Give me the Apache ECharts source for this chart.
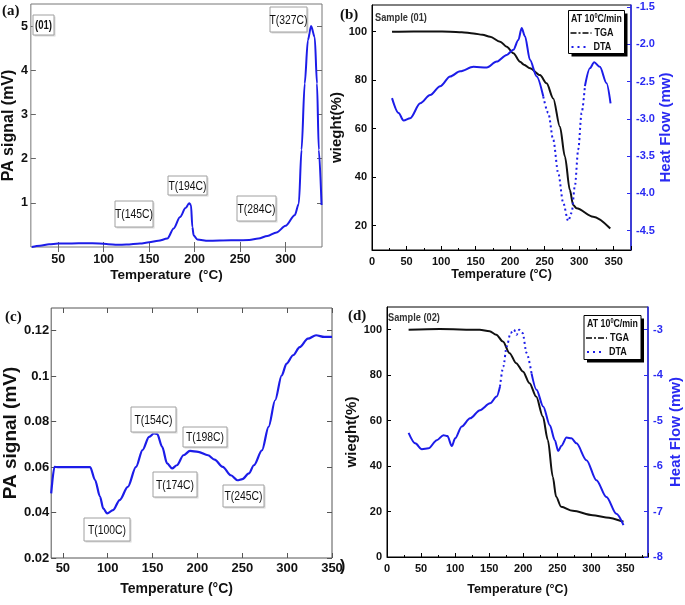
<!DOCTYPE html>
<html><head><meta charset="utf-8">
<script src="https://cdn.jsdelivr.net/npm/echarts@6/dist/echarts.min.js"></script>
<style>html,body{margin:0;padding:0;background:#fff}#c{width:685px;height:605px}</style>
</head><body><div id="c"></div>
<script>
// ---------- Panel (a): PA signal, sample 01 ----------
const aT = [21, 30, 40, 50, 65, 80, 95, 105, 115, 125, 140, 150, 160, 170, 177, 184, 190, 194, 196, 197.5, 199, 203, 215, 240, 260, 270, 280, 290, 300, 310, 314.5, 317.5, 321, 324.5, 328, 332, 334.5, 336.5, 339.5];
const aV = [0.0, 0.03, 0.06, 0.08, 0.08, 0.085, 0.08, 0.065, 0.05, 0.055, 0.08, 0.105, 0.14, 0.19, 0.42, 0.68, 0.88, 0.99, 0.95, 0.45, 0.26, 0.17, 0.14, 0.15, 0.16, 0.19, 0.25, 0.33, 0.48, 0.72, 0.98, 2.2, 3.7, 4.68, 5.0, 4.75, 3.7, 2.2, 0.95];
const aXTicks = [50, 100, 150, 200, 250, 300];
const aYTicks = [1, 2, 3, 4, 5];
const aNotes = ['(01)', 'T(145C)', 'T(194C)', 'T(284C)', 'T(327C)'];

// ---------- Panel (b): TGA / DTA, sample 01 ----------
const tgaBT = [29, 60, 90, 113, 130, 147, 160, 171, 185.5, 195.1, 204.7, 214.4, 220, 228.8, 243.2, 252.8, 262.4, 272.1, 279.3, 286.5, 291.3, 296.1, 320.2, 345];
const tgaBW = [100, 100.1, 100.1, 100, 99.8, 99.3, 98.7, 97.9, 95.9, 93.8, 91.1, 87.6, 86.4, 84.9, 82.1, 78.7, 72.5, 60.8, 48.5, 34.7, 28.5, 27.2, 23.7, 18.9];
const dtaB1T = [29, 38.5, 45.7, 55.3, 69.8, 84.2, 98.7, 113.2, 127.6, 146.9, 166.2, 180.6, 195.1, 204.7, 211.9, 216.7, 221.5, 228.8, 238.4, 248];
const dtaB1V = [-2.72, -2.92, -3.02, -2.99, -2.79, -2.68, -2.56, -2.43, -2.36, -2.30, -2.31, -2.23, -2.14, -2.07, -1.94, -1.78, -1.89, -2.21, -2.43, -2.70];
const dtaB2T = [248, 255.2, 262.4, 269.7, 276.9, 284.1, 289, 293.8, 298.6, 303.5, 308.3];
const dtaB2V = [-2.70, -2.92, -3.28, -3.73, -4.13, -4.37, -4.26, -3.90, -3.41, -2.92, -2.56];
const dtaB3T = [308.3, 315.5, 321.7, 329.9, 339.6, 345.4];
const dtaB3V = [-2.56, -2.32, -2.24, -2.30, -2.52, -2.79];
const bXLabels = [0, 50, 100, 150, 200, 250, 300, 350];
const bYLabels = [20, 40, 60, 80, 100];
const bY2Labels = [-4.5, -4.0, -3.5, -3.0, -2.5, -2.0, -1.5];

// ---------- Panel (c): PA signal, sample 02 ----------
const cT = [37, 40.6, 44.3, 60, 80.4, 85.9, 91.4, 95, 99.4, 106, 113.3, 122.4, 131.5, 138.8, 146.1, 151.6, 155.2, 160.7, 166.2, 171.7, 177.1, 184.4, 191.7, 200.8, 211.8, 219.1, 228.2, 237.3, 244.6, 250.1, 257.4, 262.9, 272, 279.3, 286.6, 293.9, 299.3, 306.6, 314, 323.1, 332.2, 341.3, 350];
const cV = [0.0484, 0.0601, 0.06, 0.06, 0.06, 0.0543, 0.047, 0.0418, 0.0396, 0.0411, 0.0455, 0.0513, 0.0601, 0.0675, 0.0733, 0.0748, 0.0745, 0.0689, 0.0616, 0.0594, 0.0608, 0.0652, 0.0671, 0.0667, 0.0652, 0.0633, 0.0601, 0.0564, 0.0542, 0.0547, 0.0572, 0.0608, 0.0674, 0.0777, 0.0894, 0.1003, 0.1055, 0.1092, 0.1128, 0.1165, 0.118, 0.1173, 0.1173];
const cXTicks = [50, 100, 150, 200, 250, 300, 350];
const cYTicks = [0.02, 0.04, 0.06, 0.08, 0.1, 0.12];
const cNotes = ['T(154C)', 'T(198C)', 'T(174C)', 'T(245C)', 'T(100C)'];

// ---------- Panel (d): TGA / DTA, sample 02 ----------
const tgaDT = [31.7, 77.4, 136, 150.6, 160.4, 170.1, 179.9, 189.6, 199.4, 209.2, 218.9, 228.7, 236, 243.3, 248.2, 255.5, 272.6, 301.9, 321.4, 347];
const tgaDW = [100, 100.3, 100, 99.3, 97.8, 94.8, 89.7, 85.3, 81.6, 76.5, 70.6, 61.8, 51.5, 35.3, 26.5, 22.1, 20.3, 18.4, 17.4, 15.5];
const dtaD1T = [31.7, 41.4, 51.2, 60.9, 73.1, 82.9, 88.7, 95.1, 100, 109.7, 121.9, 136.5, 151.2, 160.9, 165.8];
const dtaD1V = [-5.27, -5.50, -5.63, -5.61, -5.43, -5.32, -5.34, -5.56, -5.39, -5.13, -4.95, -4.77, -4.62, -4.47, -4.25];
const dtaD2T = [165.8, 170.7, 175.6, 181.4, 186.3, 190.2, 194.1, 199, 204.8, 212.1];
const dtaD2V = [-4.25, -3.81, -3.37, -3.07, -3.0, -3.11, -3.0, -3.07, -3.51, -3.96];
const dtaD3T = [212.1, 219.4, 229.2, 238.9, 246.3, 251.2, 256, 263.4, 270.7, 278, 292.7, 307.3, 322, 336.6, 347];
const dtaD3V = [-3.96, -4.32, -4.69, -5.10, -5.43, -5.67, -5.55, -5.37, -5.39, -5.50, -5.87, -6.31, -6.68, -7.05, -7.3];
const dXLabels = [0, 50, 100, 150, 200, 250, 300, 350];
const dYLabels = [0, 20, 40, 60, 80, 100];
const dY2Labels = [-8, -7, -6, -5, -4, -3];

// ---------- rendering ----------
const SANS = '"Liberation Sans", Arial, sans-serif';
const SERIF = '"Liberation Serif", "Times New Roman", serif';
const BLUE = '#1c1ce8';
const AXBLUE = '#2a2af2';
const zip = (xs, ys) => xs.map((x, i) => [x, ys[i]]);

function tickLbl(size, color, margin, custom, fmt) {
  const o = { fontFamily: SANS, fontWeight: 'bold', fontSize: size, color: color, margin: margin };
  if (custom) o.customValues = custom;
  if (fmt) o.formatter = fmt;
  return o;
}
function nameStyle(size, color, extra) {
  return Object.assign({ fontFamily: SANS, fontWeight: 'bold', fontSize: size, color: color }, extra || {});
}
const noSplit = { show: false };

const xAxis = [
  // 0: a bottom
  { gridIndex: 0, type: 'value', min: 20, max: 340, axisLine: { show: false }, splitLine: noSplit,
    axisTick: { inside: true, length: 5, lineStyle: { color: '#666' }, customValues: aXTicks },
    axisLabel: tickLbl(12.5, '#111', 6, aXTicks),
    name: 'Temperature  (°C)', nameLocation: 'middle', nameGap: 21,
    nameTextStyle: nameStyle(13.5, '#111', { padding: [0, 20, 0, 0], verticalAlign: 'top' }) },
  // 1: a top mirror
  { gridIndex: 0, type: 'value', position: 'top', min: 20, max: 340, axisLine: { show: false }, splitLine: noSplit,
    axisTick: { inside: true, length: 5, lineStyle: { color: '#666' }, customValues: aXTicks }, axisLabel: { show: false } },
  // 2: b bottom
  { gridIndex: 1, type: 'value', min: 0, max: 375, interval: 50, splitLine: noSplit,
    axisLine: { lineStyle: { color: '#000', width: 1 } },
    axisTick: { inside: true, length: 4, lineStyle: { color: '#000' } },
    minorTick: { show: true, splitNumber: 2, length: 2, lineStyle: { color: '#000' } },
    axisLabel: tickLbl(11, '#111', 6, bXLabels),
    name: 'Temperature (°C)', nameLocation: 'middle', nameGap: 15,
    nameTextStyle: nameStyle(12.5, '#111', { verticalAlign: 'top' }) },
  // 3: c bottom
  { gridIndex: 2, type: 'value', min: 37, max: 350, axisLine: { show: false }, splitLine: noSplit,
    axisTick: { inside: true, length: 5, lineStyle: { color: '#555' }, customValues: cXTicks },
    axisLabel: tickLbl(13, '#111', 4, cXTicks),
    name: 'Temperature (°C)', nameLocation: 'middle', nameGap: 24,
    nameTextStyle: nameStyle(14, '#111', { padding: [0, 30, 0, 0], verticalAlign: 'top' }) },
  // 4: c top mirror
  { gridIndex: 2, type: 'value', position: 'top', min: 37, max: 350, axisLine: { show: false }, splitLine: noSplit,
    axisTick: { inside: true, length: 5, lineStyle: { color: '#555' }, customValues: cXTicks }, axisLabel: { show: false } },
  // 5: d bottom
  { gridIndex: 3, type: 'value', min: 0, max: 383, interval: 50, splitLine: noSplit,
    axisLine: { lineStyle: { color: '#000', width: 1 } },
    axisTick: { inside: true, length: 4, lineStyle: { color: '#000' } },
    minorTick: { show: true, splitNumber: 2, length: 2, lineStyle: { color: '#000' } },
    axisLabel: tickLbl(11, '#111', 6, dXLabels),
    name: 'Temperature (°C)', nameLocation: 'middle', nameGap: 26,
    nameTextStyle: nameStyle(12.5, '#111', { verticalAlign: 'top' }) }
];

const yAxis = [
  // 0: a left
  { gridIndex: 0, type: 'value', min: 0, max: 5.5, axisLine: { show: false }, splitLine: noSplit,
    axisTick: { inside: true, length: 5, lineStyle: { color: '#666' }, customValues: aYTicks },
    axisLabel: tickLbl(12.5, '#111', 3, aYTicks),
    name: 'PA signal (mV)', nameLocation: 'middle', nameGap: 6,
    nameTextStyle: nameStyle(16, '#111') },
  // 1: a right mirror
  { gridIndex: 0, type: 'value', position: 'right', min: 0, max: 5.5, axisLine: { show: false }, splitLine: noSplit,
    axisTick: { inside: true, length: 5, lineStyle: { color: '#666' }, customValues: aYTicks }, axisLabel: { show: false } },
  // 2: b left
  { gridIndex: 1, type: 'value', min: 10, max: 111, splitLine: noSplit,
    axisLine: { show: true, lineStyle: { color: '#000' } },
    axisTick: { show: true, inside: true, length: 4, lineStyle: { color: '#000' }, customValues: bYLabels },
    axisLabel: tickLbl(11, '#111', 5, bYLabels),
    name: 'wieght(%)', nameLocation: 'middle', nameGap: 18,
    nameTextStyle: nameStyle(15, '#111') },
  // 3: b right (heat flow)
  { gridIndex: 1, type: 'value', position: 'right', min: -4.76, max: -1.47, splitLine: noSplit,
    axisLine: { show: true, lineStyle: { color: AXBLUE, width: 1.5 } },
    axisTick: { show: true, inside: true, length: 4, lineStyle: { color: AXBLUE }, customValues: bY2Labels },
    axisLabel: tickLbl(11, AXBLUE, 5, bY2Labels, v => v.toFixed(1)),
    name: 'Heat Flow (mw)', nameLocation: 'middle', nameGap: 24,
    nameTextStyle: nameStyle(15, AXBLUE) },
  // 4: c left
  { gridIndex: 2, type: 'value', min: 0.02, max: 0.13, axisLine: { show: false }, splitLine: noSplit,
    axisTick: { inside: true, length: 5, lineStyle: { color: '#555' }, customValues: cYTicks },
    axisLabel: tickLbl(13, '#111', 2, cYTicks),
    name: 'PA signal (mV)', nameLocation: 'middle', nameGap: 27,
    nameTextStyle: nameStyle(19, '#111') },
  // 5: c right mirror
  { gridIndex: 2, type: 'value', position: 'right', min: 0.02, max: 0.13, axisLine: { show: false }, splitLine: noSplit,
    axisTick: { inside: true, length: 5, lineStyle: { color: '#555' }, customValues: cYTicks }, axisLabel: { show: false } },
  // 6: d left
  { gridIndex: 3, type: 'value', min: 0, max: 110, splitLine: noSplit,
    axisLine: { show: true, lineStyle: { color: '#000' } },
    axisTick: { show: true, inside: true, length: 4, lineStyle: { color: '#000' }, customValues: dYLabels },
    axisLabel: tickLbl(11, '#111', 5, dYLabels),
    name: 'wieght(%)', nameLocation: 'middle', nameGap: 23,
    nameTextStyle: nameStyle(15, '#111') },
  // 7: d right
  { gridIndex: 3, type: 'value', position: 'right', min: -8, max: -2.5, splitLine: noSplit,
    axisLine: { show: true, lineStyle: { color: AXBLUE, width: 1.5 } },
    axisTick: { show: true, inside: true, length: 4, lineStyle: { color: AXBLUE }, customValues: dY2Labels },
    axisLabel: tickLbl(11, AXBLUE, 5, dY2Labels),
    name: 'Heat Flow (mw)', nameLocation: 'middle', nameGap: 20,
    nameTextStyle: nameStyle(15, AXBLUE) }
];

function line(name, data, xi, yi, color, width, type) {
  return { name: name, type: 'line', data: data, xAxisIndex: xi, yAxisIndex: yi, symbol: 'none',
    smooth: 0.3, smoothMonotone: 'x', lineStyle: { color: color, width: width, type: type || 'solid' }, z: 3 };
}

const series = [
  line('PA (01)', zip(aT, aV), 0, 0, BLUE, 2),
  line('TGA', zip(tgaBT, tgaBW), 2, 2, '#111', 2),
  line('DTA', zip(dtaB1T, dtaB1V), 2, 3, BLUE, 2),
  line('DTA', zip(dtaB2T, dtaB2V), 2, 3, BLUE, 2, [2, 3]),
  line('DTA', zip(dtaB3T, dtaB3V), 2, 3, BLUE, 2),
  line('PA (02)', zip(cT, cV), 3, 4, BLUE, 2.2),
  line('TGA', zip(tgaDT, tgaDW), 5, 6, '#111', 2),
  line('DTA', zip(dtaD1T, dtaD1V), 5, 7, BLUE, 2),
  line('DTA', zip(dtaD2T, dtaD2V), 5, 7, BLUE, 2, [2, 3]),
  line('DTA', zip(dtaD3T, dtaD3V), 5, 7, BLUE, 2)
];

// ---------- decorations (annotation boxes, legends, panel letters) ----------
const G = [];
function txt(x, y, text, font, color, align, sx, rich) {
  const s = { text: text, font: font, fill: color || '#111', align: align || 'left', textAlign: align || 'left',
    verticalAlign: 'middle', textVerticalAlign: 'middle' };
  if (rich) s.rich = rich;
  G.push({ type: 'text', x: x, y: y, scaleX: sx || 1, z: 20, style: s });
}
function box(x, y, w, h, text, font) {
  G.push({ type: 'rect', z: 19, shape: { x: x + 1.5, y: y + 1.5, width: w, height: h }, style: { fill: '#d8d8d8' } });
  G.push({ type: 'rect', z: 19, shape: { x: x, y: y, width: w, height: h }, style: { fill: '#fff', stroke: '#a0a0a0', lineWidth: 1 } });
  txt(x + w / 2, y + h / 2 + 0.5, text, font, '#111', 'center', 0.8);
}
function legendBox(x, y, w, h) {
  G.push({ type: 'rect', z: 19, shape: { x: x + 3, y: y + 3, width: w, height: h }, style: { fill: '#000' } });
  G.push({ type: 'rect', z: 19, shape: { x: x, y: y, width: w, height: h }, style: { fill: '#fff', stroke: '#000', lineWidth: 1 } });
  const f = 'bold 11px ' + SANS;
  txt(x + w / 2, y + 8, 'AT 10{s|0}C/min', f, '#111', 'center', 0.8,
      { s: { fontSize: 7, fontWeight: 'bold', fontFamily: SANS, verticalAlign: 'top', padding: [0, 0, 5, 0] } });
  G.push({ type: 'line', z: 20, shape: { x1: x + 2, y1: y + 22.5, x2: x + 23, y2: y + 22.5 }, style: { stroke: '#000', lineWidth: 1.6, lineDash: [6, 2, 2, 2] } });
  txt(x + 26, y + 22.5, 'TGA', f, '#111', 'left', 0.82);
  G.push({ type: 'line', z: 20, shape: { x1: x + 3, y1: y + 36.5, x2: x + 20, y2: y + 36.5 }, style: { stroke: BLUE, lineWidth: 2, lineDash: [2, 4] } });
  txt(x + 25, y + 36.5, 'DTA', f, '#111', 'left', 0.82);
}

const noteFont = '13px ' + SANS;
// panel a
txt(2, 11, '(a)', 'bold 15px ' + SERIF, '#111');
box(33, 15, 21, 20, aNotes[0], 'bold 12px ' + SANS);
box(115, 201, 38, 26, aNotes[1], noteFont);
box(168, 176, 39, 19, aNotes[2], noteFont);
box(237, 196, 39, 25, aNotes[3], noteFont);
box(270, 7, 37, 25, aNotes[4], noteFont);
// panel b
txt(340, 15, '(b)', 'bold 15px ' + SERIF, '#111');
txt(375, 17.5, 'Sample (01)', 'bold 11px ' + SANS, '#333', 'left', 0.84);
legendBox(568.5, 10.5, 56, 43);
// panel c
txt(5, 317, '(c)', 'bold 15px ' + SERIF, '#111');
box(131, 407, 45, 25, cNotes[0], noteFont);
box(183, 427, 44, 20, cNotes[1], noteFont);
box(153, 472, 44, 25, cNotes[2], noteFont);
box(223, 485, 41, 22, cNotes[3], noteFont);
box(84, 518, 46, 23, cNotes[4], noteFont);
// panel d
txt(348, 316, '(d)', 'bold 15px ' + SERIF, '#111');
txt(388, 318, 'Sample (02)', 'bold 11px ' + SANS, '#333', 'left', 0.84);
legendBox(584, 315.5, 57, 44);
txt(340, 567, ')', 'bold 16px ' + SANS, '#111');

const chart = echarts.init(document.getElementById('c'), null, { renderer: 'canvas' });
chart.setOption({
  animation: false,
  backgroundColor: '#fff',
  grid: [
    { left: 28, top: 4, width: 294, height: 243, show: true, borderColor: '#777', borderWidth: 1 },
    { left: 372, top: 5, width: 259, height: 245, show: true, borderColor: '#000', borderWidth: 1 },
    { left: 47, top: 308, width: 285, height: 250, show: true, borderColor: '#555', borderWidth: 1 },
    { left: 387, top: 307, width: 261, height: 250, show: true, borderColor: '#000', borderWidth: 1 }
  ],
  xAxis: xAxis,
  yAxis: yAxis,
  series: series,
  graphic: { elements: G }
});
</script>
</body></html>
